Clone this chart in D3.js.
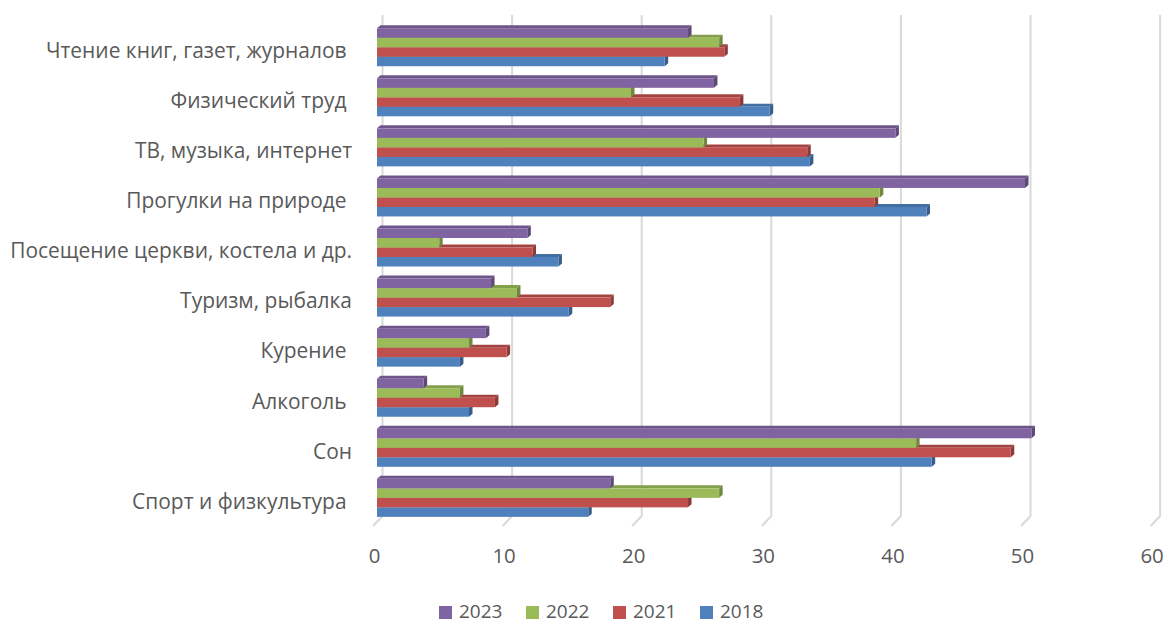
<!DOCTYPE html>
<html>
<head>
<meta charset="utf-8">
<script src="https://cdn.jsdelivr.net/npm/d3@7"></script>
<style>
  html, body { margin: 0; padding: 0; background: #fff; }
  svg { display: block; }
  text { font-family: "Open Sans", "Noto Sans", sans-serif; fill: #595959; white-space: pre; }
</style>
</head>
<body>
<svg id="chart" width="1165" height="624"></svg>
<script>
// ---- data ----
const categories = [
  "Чтение книг, газет, журналов ",
  "Физический труд ",
  "ТВ, музыка, интернет",
  "Прогулки на природе ",
  "Посещение церкви, костела и др.",
  "Туризм, рыбалка",
  "Курение ",
  "Алкоголь ",
  "Сон",
  "Спорт и физкультура "
];
const seriesNames = ["2023", "2022", "2021", "2018"];
const v2023 = [24.0, 26.0, 40.0, 50.0, 11.6, 8.8, 8.4, 3.6, 50.5, 18.0];
const v2022 = [26.4, 19.6, 25.2, 38.8, 4.8, 10.8, 7.1, 6.4, 41.6, 26.4];
const v2021 = [26.8, 28.0, 33.2, 38.4, 12.0, 18.0, 10.0, 9.1, 48.9, 24.0];
const v2018 = [22.2, 30.3, 33.4, 42.4, 14.0, 14.8, 6.4, 7.1, 42.8, 16.3];
const tickValues = [0, 10, 20, 30, 40, 50, 60];
const seriesColors = ["#8064A2", "#9BBB59", "#C0504D", "#4F81BD"];

const seriesValues = [v2023, v2022, v2021, v2018];

// ---- layout ----
const svg = d3.select("#chart");
const x = d3.scaleLinear().domain([0, 60]).range([377, 1154.6]);
const y = d3.scaleBand().domain(categories).range([20.7, 521.4]).paddingInner(0.241).paddingOuter(0.1205);
const ys = d3.scaleBand().domain(seriesNames).range([0, y.bandwidth()]);
const color = d3.scaleOrdinal().domain(seriesNames).range(seriesColors);

const wallDx = 5.5, gridTop = 15, floorY = 516;
const dx = 3.5, dy = 3;

// gridlines (back wall + floor)
const grid = svg.append("g");
tickValues.forEach(t => {
  const gx = x(t) + wallDx;
  grid.append("path")
    .attr("d", `M${gx},${gridTop}L${gx},${floorY}L${gx - 9.5},${floorY + 10}`)
    .attr("fill", "none").attr("stroke", "#D9D9D9").attr("stroke-width", 2);
});

// tick labels via axis
const axisG = svg.append("g").attr("transform", "translate(-3,556)")
  .call(d3.axisBottom(x).tickValues(tickValues).tickSize(0).tickPadding(0).tickFormat(d3.format("d")));
axisG.select(".domain").remove();
axisG.selectAll("text").attr("dy", "0.35em").attr("font-size", 20)
  .style("font-family", '"Open Sans", sans-serif').attr("fill", "#595959");

// bars
const bars = svg.append("g");
categories.forEach((c, ci) => {
  // draw from bottom (2018) to top (2023)
  for (let si = seriesNames.length - 1; si >= 0; si--) {
    const s = seriesNames[si];
    const v = seriesValues[si][ci];
    const x0 = x(0), x1 = x(v);
    const yt = y(c) + ys(s) + 1.5, h = ys.bandwidth();
    const base = d3.color(color(s));
    const g = bars.append("g");
    g.append("path")
      .attr("d", `M${x0},${yt}L${x0 + dx},${yt - dy}L${x1 + dx},${yt - dy}L${x1},${yt}Z`)
      .attr("fill", base.darker(0.45));
    g.append("path")
      .attr("d", `M${x1},${yt}L${x1 + dx},${yt - dy}L${x1 + dx},${yt + h - dy}L${x1},${yt + h}Z`)
      .attr("fill", base.darker(0.9));
    g.append("rect")
      .attr("x", x0).attr("y", yt).attr("width", x1 - x0).attr("height", h)
      .attr("fill", base);
  }
});

// category labels
const labelG = svg.append("g");
const labels = labelG.selectAll("text").data(categories).join("text")
  .attr("x", 352)
  .attr("y", d => y(d) + y.bandwidth() / 2 + 5)
  .attr("dy", "0.35em")
  .attr("text-anchor", "end")
  .attr("font-size", 20)
  .text(d => d);
// fit font size to the reference width of the longest label
const longest = labels.filter(d => d === "Посещение церкви, костела и др.").node();
const w0 = longest.getComputedTextLength();
const labelSize = 20 * 342 / w0;
labels.attr("font-size", labelSize);

// fit ticks & legend font to reference digit width
const probe = svg.append("text").attr("font-size", 20).text("2023");
const pw = probe.node().getComputedTextLength();
probe.remove();
const numSize = 20 * 46.7 / pw;
axisG.selectAll("text").attr("font-size", numSize);

// legend
const legendSize = Math.min(numSize, 19);
const legend = svg.append("g");
seriesNames.forEach((s, i) => {
  const lx = 439 + i * 87;
  legend.append("rect").attr("x", lx).attr("y", 606).attr("width", 13).attr("height", 13)
    .attr("fill", color(s));
  legend.append("text").attr("x", lx + 20).attr("y", 611.5).attr("dy", "0.35em")
    .attr("font-size", legendSize).text(s);
});
</script>
</body>
</html>
